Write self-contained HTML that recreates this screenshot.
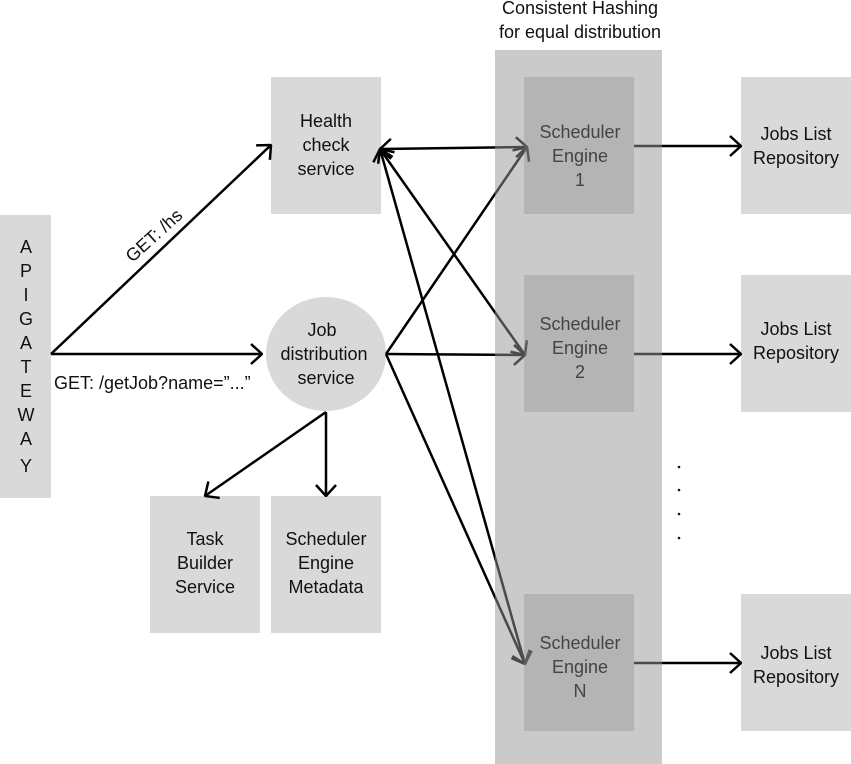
<!DOCTYPE html>
<html><head><meta charset="utf-8"><style>
html,body{margin:0;padding:0;background:#fff;}
svg{display:block;}
text{font-family:"Liberation Sans",sans-serif;font-size:18px;fill:#111;text-anchor:middle;}
</style></head><body>
<svg width="851" height="764" viewBox="0 0 851 764" xmlns="http://www.w3.org/2000/svg">
<defs>
<marker id="a" viewBox="0 0 12 12" refX="11" refY="6" markerWidth="12" markerHeight="12" markerUnits="userSpaceOnUse" orient="auto-start-reverse">
<path d="M1,1 L11,6 L1,11" fill="none" stroke="#000" stroke-width="2.2"/>
</marker>
<marker id="b" viewBox="0 0 22 22" refX="21" refY="11" markerWidth="22" markerHeight="22" markerUnits="userSpaceOnUse" orient="auto-start-reverse">
<path d="M10,1 L21,11 L10,21" fill="none" stroke="#000" stroke-width="2.5"/>
</marker>
</defs>
<!-- boxes -->
<rect x="0" y="215" width="51" height="283" fill="#d9d9d9"/>
<rect x="271" y="77" width="110" height="137" fill="#d9d9d9"/>
<ellipse cx="326" cy="354" rx="60" ry="57" fill="#d9d9d9"/>
<rect x="150" y="496" width="110" height="137" fill="#d9d9d9"/>
<rect x="271" y="496" width="110" height="137" fill="#d9d9d9"/>
<rect x="741" y="77" width="110" height="137" fill="#d9d9d9"/>
<rect x="741" y="275" width="110" height="137" fill="#d9d9d9"/>
<rect x="741" y="594" width="110" height="137" fill="#d9d9d9"/>

<!-- lines -->
<g stroke="#000" stroke-width="2.5" fill="none">
<line x1="51" y1="354" x2="271" y2="145" marker-end="url(#b)"/>
<line x1="51" y1="354" x2="262" y2="354" marker-end="url(#b)"/>
<line x1="326" y1="412" x2="205" y2="496" marker-end="url(#b)"/>
<line x1="326" y1="412" x2="326" y2="496" marker-end="url(#b)"/>
<line x1="380" y1="149" x2="527" y2="147" marker-end="url(#b)" marker-start="url(#b)"/>
<line x1="380" y1="149" x2="525" y2="355" marker-end="url(#b)" marker-start="url(#b)"/>
<line x1="380" y1="149" x2="525" y2="664" marker-end="url(#b)" marker-start="url(#b)"/>
<line x1="386" y1="354" x2="527" y2="147" marker-end="url(#b)"/>
<line x1="386" y1="354" x2="525" y2="355" marker-end="url(#b)"/>
<line x1="386" y1="354" x2="525" y2="664" marker-end="url(#b)"/>
<line x1="634" y1="146" x2="741" y2="146" marker-end="url(#b)"/>
<line x1="634" y1="354" x2="741" y2="354" marker-end="url(#b)"/>
<line x1="634" y1="663" x2="741" y2="663" marker-end="url(#b)"/>
</g>

<!-- column overlay -->
<rect x="495" y="50" width="167" height="714" fill="rgb(150,150,150)" fill-opacity="0.5"/>
<rect x="524" y="77" width="110" height="137" fill="rgb(128,128,128)" fill-opacity="0.3"/>
<rect x="524" y="275" width="110" height="137" fill="rgb(128,128,128)" fill-opacity="0.3"/>
<rect x="524" y="594" width="110" height="137" fill="rgb(128,128,128)" fill-opacity="0.3"/>

<!-- texts -->
<text x="580" y="14">Consistent Hashing</text>
<text x="580" y="38">for equal distribution</text>
<g>
<text x="26" y="253">A</text><text x="26" y="277">P</text><text x="26" y="301">I</text>
<text x="26" y="325">G</text><text x="26" y="349">A</text><text x="26" y="373">T</text>
<text x="26" y="397">E</text><text x="26" y="421">W</text><text x="26" y="445">A</text>
<text x="26" y="472">Y</text>
</g>
<text x="326" y="127">Health</text><text x="326" y="151">check</text><text x="326" y="175">service</text>
<text x="322" y="336">Job</text><text x="324" y="360">distribution</text><text x="326" y="384">service</text>
<text x="158" y="240" transform="rotate(-42 158 240)">GET: /hs</text>
<text x="54" y="389" style="text-anchor:start">GET: /getJob?name=”...”</text>
<text x="205" y="545">Task</text><text x="205" y="569">Builder</text><text x="205" y="593">Service</text>
<text x="326" y="545">Scheduler</text><text x="326" y="569">Engine</text><text x="326" y="593">Metadata</text>
<g style="fill:#444">
<text x="580" y="138" style="fill:#444">Scheduler</text><text x="580" y="162" style="fill:#444">Engine</text><text x="580" y="186" style="fill:#444">1</text>
<text x="580" y="330" style="fill:#444">Scheduler</text><text x="580" y="354" style="fill:#444">Engine</text><text x="580" y="378" style="fill:#444">2</text>
<text x="580" y="649" style="fill:#444">Scheduler</text><text x="580" y="673" style="fill:#444">Engine</text><text x="580" y="697" style="fill:#444">N</text>
</g>
<text x="796" y="140">Jobs List</text><text x="796" y="164">Repository</text>
<text x="796" y="335">Jobs List</text><text x="796" y="359">Repository</text>
<text x="796" y="659">Jobs List</text><text x="796" y="683">Repository</text>
<g fill="#111"><circle cx="679" cy="467" r="1.3"/><circle cx="679" cy="490" r="1.3"/><circle cx="679" cy="514" r="1.3"/><circle cx="679" cy="538" r="1.3"/></g>
</svg>
</body></html>
